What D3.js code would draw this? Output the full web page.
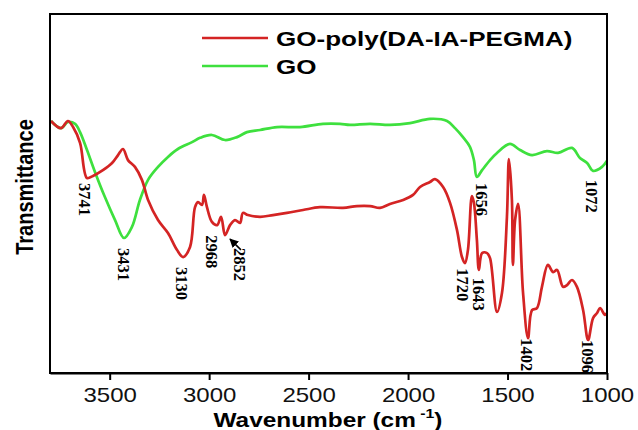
<!DOCTYPE html>
<html lang="en">
<head>
<meta charset="utf-8">
<title>FTIR</title>
<script src="https://cdn.jsdelivr.net/npm/d3@7"></script>
<style>
body { margin: 0; background: #fff; }
.peak { font-family: "Liberation Serif", "Times New Roman", serif; font-weight: bold; font-size: 16.5px; }
</style>
</head>
<body>
<script>
// GO curve (wavenumber, transmittance a.u.)
var goWave = [3795,3745,3710,3674,3649,3614,3574,3524,3473,3428,3388,3348,3307,3257,3207,3157,3086,3046,2986,2920,2860,2810,2744,2659,2543,2428,2342,2292,2191,2091,1990,1890,1804,1764,1724,1689,1669,1654,1628,1588,1553,1488,1437,1377,1302,1246,1176,1136,1100,1070,1025,1000];
var goT    = [70.2,68.2,69.9,69.4,67.1,62.1,56.0,49.0,42.6,37.6,40.7,48.2,53.8,57.4,60.2,62.4,64.3,65.5,66.3,64.9,65.7,67.1,67.7,68.5,68.5,69.4,69.4,69.1,69.4,69.1,69.6,70.8,70.2,68.2,65.7,63.0,59.3,54.6,56.5,59.3,61.3,63.8,62.1,60.7,61.8,61.3,62.7,59.9,58.5,56.3,57.4,59.1];

// GO-poly(DA-IA-PEGMA) curve
var polyWave = [3795,3745,3710,3684,3649,3614,3584,3534,3488,3458,3433,3408,3373,3338,3307,3257,3207,3162,3131,3096,3071,3056,3036,3026,3011,2986,2960,2940,2920,2895,2870,2845,2830,2805,2744,2679,2609,2528,2443,2327,2257,2191,2141,2091,2025,1975,1940,1890,1865,1824,1789,1754,1729,1714,1699,1679,1669,1654,1644,1628,1603,1588,1553,1528,1503,1493,1478,1473,1462,1447,1422,1397,1377,1352,1327,1297,1271,1251,1221,1201,1176,1151,1120,1095,1070,1050,1035,1010,1000];
var polyT    = [70.2,68.2,70.2,68.5,64.1,54.3,54.9,56.5,58.5,60.7,62.4,59.3,57.4,53.8,48.2,42.6,39.0,34.3,32.3,35.1,46.2,47.6,46.8,49.6,46.2,42.1,41.2,43.5,38.4,41.2,42.6,41.8,44.6,44.0,43.5,44.0,44.6,45.4,46.2,46.0,46.5,46.5,46.0,47.1,48.2,49.6,51.8,53.2,54.0,51.8,47.4,39.8,32.3,30.6,34.3,49.3,47.4,37.0,28.7,33.4,33.4,32.0,17.0,22.3,43.5,59.6,48.2,30.1,42.6,47.1,22.3,9.7,17.5,18.1,24.0,30.1,28.1,28.7,24.0,24.5,25.9,24.0,17.5,9.2,15.3,16.7,18.1,16.2,16.7];

var xTicks = [3500, 3000, 2500, 2000, 1500, 1000];
var seriesNames = ["GO-poly(DA-IA-PEGMA)", "GO"];
var seriesColors = ["#d42424", "#3ee03e"];

// peak annotations: label, anchor wavenumber, top of text (a.u.)
var peakLabels = ["3741","3431","3130","2968","2852","1656","1072","1720","1643","1402","1096"];
var peakAt     = [3624, 3428, 3136, 2986, 2845, 1628, 1075, 1724, 1643, 1402, 1096];
var peakTop    = [52.9, 34.8, 29.5, 38.4, 34.8, 52.9, 53.8, 29.2, 26.5, 9.7, 9.2];

var W = 638, H = 430;
var m = {left: 50, top: 14, right: 31, bottom: 57};
var stretch = 1.2;

var svg = d3.select("body").append("svg")
  .attr("width", W)
  .attr("height", H)

var x = d3.scaleLinear().domain([3800, 1000]).range([m.left, W - m.right]);
var y = d3.scaleLinear().domain([0, 100]).range([H - m.bottom, m.top]);

var line = d3.line()
  .curve(d3.curveCatmullRom.alpha(0.5))
  .x(function(d){ return x(d[0]) })
  .y(function(d){ return y(d[1]) });

var goData = d3.zip(goWave, goT);
var polyData = d3.zip(polyWave, polyT);

svg.append("path").datum(goData)
  .attr("d", line)
  .attr("fill", "none")
  .attr("stroke", seriesColors[1])
  .attr("stroke-width", 2.7)
  .attr("stroke-linejoin", "round");

svg.append("path").datum(polyData)
  .attr("d", line)
  .attr("fill", "none")
  .attr("stroke", seriesColors[0])
  .attr("stroke-width", 2.7)
  .attr("stroke-linejoin", "round");

/* frame */
svg.append("rect")
  .attr("x", m.left).attr("y", m.top)
  .attr("width", W - m.left - m.right)
  .attr("height", H - m.top - m.bottom)
  .attr("fill", "none")
  .attr("stroke", "#000")
  .attr("stroke-width", 2);

/* bottom axis */
var xAxis = svg.append("g")
  .attr("transform", "translate(0," + (H - m.bottom) + ")")
  .call(d3.axisBottom(x).tickValues(xTicks).tickSize(7).tickSizeOuter(0).tickPadding(8).tickFormat(d3.format("d")));
xAxis.select(".domain").attr("stroke-width", 2);
xAxis.selectAll(".tick line").attr("stroke-width", 2);
xAxis.selectAll(".tick text")
  .attr("font-family", "Liberation Sans, Arial, sans-serif")
  .attr("font-size", 20)
  .attr("fill", "#111")
  .attr("transform", "scale(" + stretch + ",1)");

/* axis titles */
var xl = svg.append("text")
  .attr("transform", "translate(328,427) scale(1.22,1)")
  .attr("text-anchor", "middle")
  .attr("font-family", "Liberation Sans, Arial, sans-serif")
  .attr("font-weight", "bold")
  .attr("font-size", 20);
xl.append("tspan").text("Wavenumber (cm");
xl.append("tspan").attr("font-size", 13).attr("dy", -9).text(" -1");
xl.append("tspan").attr("dy", 9).text(")");

svg.append("text")
  .attr("transform", "translate(33,187) scale(1.2,1) rotate(-90)")
  .attr("text-anchor", "middle")
  .attr("font-family", "Liberation Sans, Arial, sans-serif")
  .attr("font-weight", "bold")
  .attr("font-size", 20)
  .text("Transmittance");

/* legend */
var leg = svg.selectAll(".leg").data(seriesNames).enter()
  .append("g").attr("class", "leg")
  .attr("transform", function(d, i){ return "translate(202," + (38 + i * 28) + ")" });
leg.append("line")
  .attr("x1", 0).attr("x2", 66)
  .attr("stroke", function(d, i){ return seriesColors[i] })
  .attr("stroke-width", 2.7);
leg.append("text")
  .attr("transform", "translate(74,8) scale(1.24,1)")
  .attr("font-family", "Liberation Sans, Arial, sans-serif")
  .attr("font-weight", "bold")
  .attr("font-size", 21)
  .text(function(d){ return d });

/* peak labels */
svg.selectAll(".peak").data(peakLabels).enter()
  .append("text")
  .attr("class", "peak")
  .attr("transform", function(d, i){ return "translate(" + x(peakAt[i]) + "," + y(peakTop[i]) + ") rotate(90)" })
  .attr("dy", "0.35em")
  .text(function(d){ return d });

/* arrow to 2852 */
svg.append("defs").append("marker")
  .attr("id", "ah").attr("viewBox", "0 0 10 10")
  .attr("refX", 9).attr("refY", 5)
  .attr("markerWidth", 6).attr("markerHeight", 6)
  .attr("orient", "auto")
  .append("path").attr("d", "M0,0L10,5L0,10z").attr("fill", "#000");
svg.append("line")
  .attr("x1", x(2840)).attr("y1", y(34.3))
  .attr("x2", x(2895)).attr("y2", y(37.3))
  .attr("stroke", "#000").attr("stroke-width", 1.5)
  .attr("marker-end", "url(#ah)");
</script>
</body>
</html>
